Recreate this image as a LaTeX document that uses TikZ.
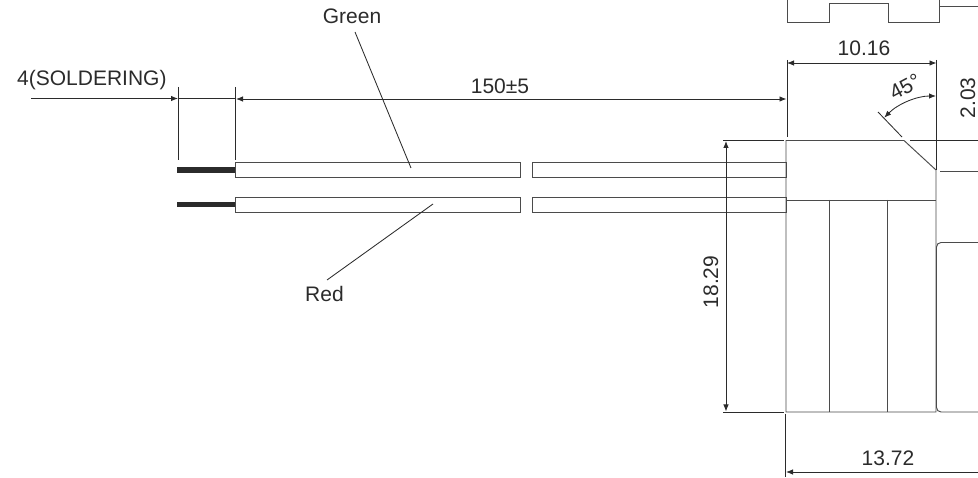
\documentclass[tikz,border=0pt]{standalone}
\usepackage{fontspec}
\setmainfont{Liberation Sans}
\usetikzlibrary{arrows.meta}
\definecolor{ink}{gray}{0.17}
\tikzset{
  part/.style={draw=ink!85!white,line width=0.95pt},
  thin line/.style={draw=ink,line width=0.85pt},
  dim/.style={thin line,{Latex[length=7pt,width=5.5pt]}-{Latex[length=7pt,width=5.5pt]}},
  dimto/.style={thin line,-{Latex[length=7pt,width=5.5pt]}},
  dimfrom/.style={thin line,{Latex[length=7pt,width=5.5pt]}-},
  lead/.style={draw=ink,line width=5.5pt},
  lbl/.style={text=ink,inner sep=0pt,font=\fontsize{21}{23}\selectfont}
}
\begin{document}
\begin{tikzpicture}[x=1pt,y=-1pt]
\useasboundingbox (0,0) rectangle (978,478);
% upper part
\draw[part] (787,0) -- (787,22) -- (829,22) -- (829,3) -- (888,3) -- (888,22) -- (939,22) -- (939,6) -- (978,6);
\draw[part] (939,0) -- (939,6);
% body
\draw[part] (786,140.5) -- (904,140.5) -- (936,170) -- (936,412) -- (786,412) -- cycle;
\draw[part] (786,200) -- (936,200);
\draw[part] (829.5,200) -- (829.5,412);
\draw[part] (887,200) -- (887,412);
\draw[part,rounded corners=4.5pt] (978,242.5) -- (936.5,242.5) -- (936.5,412) -- (978,412);
\draw[part] (940,171) -- (978,171);
% wires
\draw[part] (235,162) rectangle (520,177.5);
\draw[part] (532,162) rectangle (786,177.5);
\draw[part] (235,197) rectangle (520,212);
\draw[part] (532,197) rectangle (786,212);
\draw[lead] (177,170) -- (235,170);
\draw[lead] (177,204.5) -- (235,204.5);
% extension lines
\draw[thin line] (178.5,87) -- (178.5,160);
\draw[thin line] (235,87) -- (235,160);
\draw[thin line] (787,60) -- (787,137);
\draw[thin line] (936.5,60) -- (936.5,170);
\draw[thin line] (723,140.5) -- (784,140.5);
\draw[thin line] (910,140.5) -- (978,140.5);
\draw[thin line] (723,412) -- (784,412);
\draw[thin line] (785.5,414) -- (785.5,477);
\draw[thin line] (878,112) -- (902,137);
% dimensions
\draw[dim] (787,63) -- (936.5,63);
\draw[dim] (236,99) -- (786.5,99);
\draw[dimto] (31,98.5) -- (178,98.5);
\draw[thin line] (178,98.5) -- (236,98.5);
\draw[dim] (726,141) -- (726,411.5);
\draw[dimfrom] (786,472) -- (978,472);
\draw[dim] (884.2,117.7) .. controls (898,103.8) and (916.9,96) .. (936,96);
% labels
\node[lbl] (t1016) at (864,48) {10.16};
\node[lbl] (t150) at (500,86) {150±5};
\node[lbl,anchor=west] (tsold) at (17,80) {4(SOLDERING)};
\node[lbl] (tgreen) at (352,16) {Green};
\node[lbl] (tred) at (324.5,293.5) {Red};
\node[lbl,rotate=90] (t1829) at (711,282) {18.29};
\node[lbl,rotate=90] (t203) at (968,98) {2.03};
\node[lbl] (t1372) at (888,458) {13.72};
\node[lbl,rotate=28] (t45) at (905,87) {45°};
% leaders
\coordinate (gtip) at (411,168);
\coordinate (rtip) at (433,204);
\coordinate (gstart) at (355,32);
\coordinate (rstart) at (327,280);
\draw[thin line] (gstart) -- (gtip);
\draw[thin line] (rstart) -- (rtip);
\end{tikzpicture}
\end{document}
